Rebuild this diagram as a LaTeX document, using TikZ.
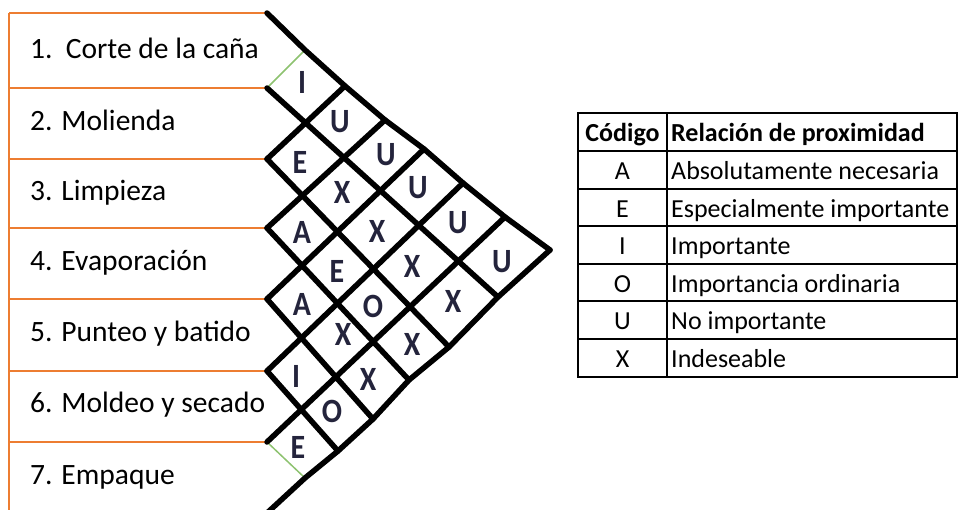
\documentclass[tikz,border=0pt]{standalone}
\usepackage{fontspec}
\setmainfont{Carlito}
\definecolor{boxorange}{HTML}{ED7D31}
\definecolor{gridgreen}{HTML}{8DC26F}
\definecolor{codeink}{HTML}{24243C}
\begin{document}
\begin{tikzpicture}[x=1pt,y=-1pt,
  rowrule/.style={draw=boxorange, line width=2pt},
  gridrule/.style={draw=black, line width=5.5pt, line cap=round, line join=round},
  faintrule/.style={draw=gridgreen, line width=1.5pt},
  rowtext/.style={anchor=base west, inner sep=0pt, font=\fontsize{29.5}{36}\selectfont},
  codeletter/.style={anchor=base, inner sep=0pt, text=codeink, font=\fontsize{34}{36}\selectfont\bfseries},
  tabrule/.style={draw=black, line width=1.6pt},
  tabtext/.style={anchor=base, inner sep=0pt, font=\fontsize{26}{30}\selectfont},
  tabhead/.style={tabtext, font=\fontsize{26}{30}\selectfont\bfseries}
]
\useasboundingbox (0,0) rectangle (959,509);
\clip (0,0) rectangle (959,509);

% ---------- process rows ----------
\coordinate (L0) at (267,13);
\coordinate (L1) at (267,88);
\coordinate (L2) at (267,159);
\coordinate (L3) at (267,228);
\coordinate (L4) at (267,299);
\coordinate (L5) at (267,371);
\coordinate (L6) at (267,442);
\coordinate (L7) at (267,513);

\draw[rowrule] (9,13) -- (9,520);
\foreach \k/\y in {0/13,1/88,2/159,3/228,4/299,5/371,6/442}
  \draw[rowrule] (9,\y) -- (L\k);

\node[rowtext] (r1) at (30,58)  {1.\ \ Corte de la caña};
\node[rowtext] (r2) at (30,130) {2. Molienda};
\node[rowtext] (r3) at (30,200) {3. Limpieza};
\node[rowtext] (r4) at (30,270) {4. Evaporación};
\node[rowtext] (r5) at (30,341) {5. Punteo y batido};
\node[rowtext] (r6) at (30,412) {6. Moldeo y secado};
\node[rowtext] (r7) at (30,484) {7. Empaque};

% ---------- relationship matrix ----------
% points on the upper edge
\coordinate (T1) at (305,50);
\coordinate (T2) at (345,86);
\coordinate (T3) at (385,120);
\coordinate (T4) at (424,149);
\coordinate (T5) at (463,183);
\coordinate (T6) at (505,217);
\coordinate (apex) at (550,250);
% points on the lower edge
\coordinate (R1) at (498,297);
\coordinate (R2) at (449,347);
\coordinate (R3) at (409,380);
\coordinate (R4) at (373,419);
\coordinate (R5) at (338,451);
\coordinate (R6) at (305,478);

% thin guide lines left visible
\draw[faintrule] (L1) -- (T1);
\draw[faintrule] (L6) -- (R6);

% outer edges
\draw[gridrule] (L0) -- (T1) -- (T2) -- (T3) -- (T4) -- (T5) -- (T6) -- (apex);
\draw[gridrule] (apex) -- (R1) -- (R2) -- (R3) -- (R4) -- (R5) -- (R6) -- (L7);
% falling lines
\foreach \k in {1,...,5}
  \draw[gridrule] (L\k) -- (R\k);
% rising lines
\foreach \m in {2,...,6}
  \draw[gridrule] (L\m) -- (T\m);

% relationship codes
\foreach \nm/\x/\y/\t in {
  c12/302/83/I, c13/340/122/U, c14/386/155/U, c15/418/188/U, c16/458/223/U, c17/502/262/U,
  c23/300/163/E, c24/342/193/X, c25/377/232/X, c26/412/267/X, c27/453/302/X,
  c34/302/233/A, c35/337/272/E, c36/373/307/O, c37/412/345/X,
  c45/302/305/A, c46/343/335/X, c47/368/380/X,
  c56/296/377/I, c57/332/412/O,
  c67/298/448/E}
  \node[codeletter] (\nm) at (\x,\y+10.5) {\scalebox{0.88}[1]{\t}};

% ---------- legend table ----------
\draw[tabrule] (578,113) rectangle (957,377);
\draw[tabrule] (667,113) -- (667,377);
\foreach \y in {151,189,226,264,301,339}
  \draw[tabrule] (578,\y) -- (957,\y);

\node[tabhead] (hcode) at (622.5,141) {Código};
\node[tabhead, anchor=base west] (hrel) at (671,141) {Relación de proximidad};
\foreach \nm/\y/\c/\d in {
  a/179/A/Absolutamente necesaria,
  e/217/E/Especialmente importante,
  i/254/I/Importante,
  o/292/O/Importancia ordinaria,
  u/329/U/No importante,
  x/367/X/Indeseable}{
  \node[tabtext] (k\nm) at (622.5,\y) {\c};
  \node[tabtext, anchor=base west] (d\nm) at (671,\y) {\d};
}
\end{tikzpicture}
\end{document}
